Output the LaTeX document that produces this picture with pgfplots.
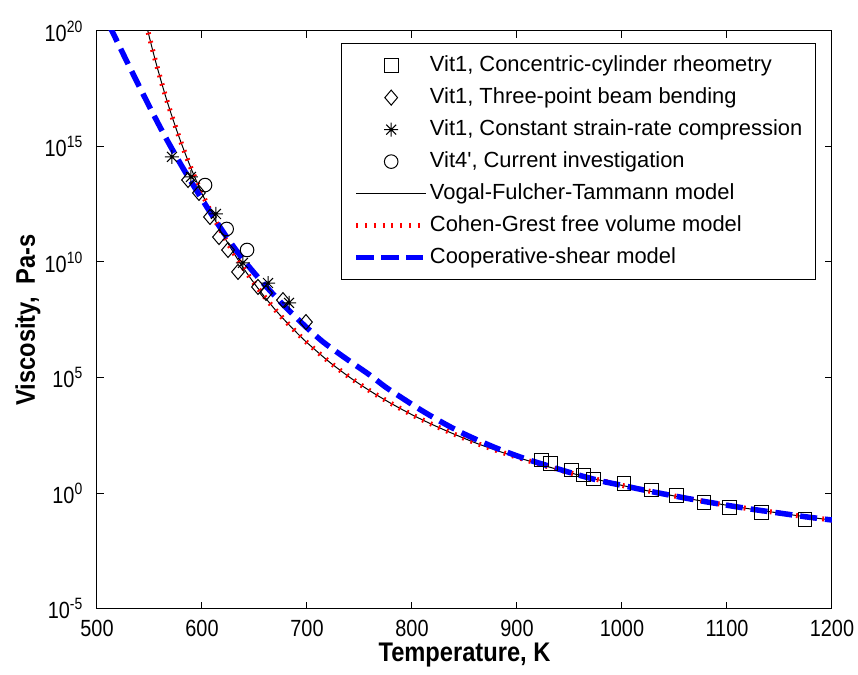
\documentclass[border=0pt]{standalone}
\usepackage{pgfplots}
\pgfplotsset{compat=1.18}
\usepackage{fontspec}
\setmainfont{Liberation Sans}
\newfontfamily\legfont[Ligatures=TeXOff]{Liberation Sans}
\newfontfamily\tickfont[FakeStretch=0.85]{Liberation Sans}
\newfontfamily\labfont[FakeStretch=0.88]{Liberation Sans}
\definecolor{mblue}{RGB}{0,0,255}
\definecolor{mred}{RGB}{255,0,0}
\pgfdeclareplotmark{ast8}{%
  \pgfpathmoveto{\pgfqpoint{-\pgfplotmarksize}{0pt}}\pgfpathlineto{\pgfqpoint{\pgfplotmarksize}{0pt}}%
  \pgfpathmoveto{\pgfqpoint{0pt}{-\pgfplotmarksize}}\pgfpathlineto{\pgfqpoint{0pt}{\pgfplotmarksize}}%
  \pgfpathmoveto{\pgfqpoint{-0.707\pgfplotmarksize}{-0.707\pgfplotmarksize}}\pgfpathlineto{\pgfqpoint{0.707\pgfplotmarksize}{0.707\pgfplotmarksize}}%
  \pgfpathmoveto{\pgfqpoint{-0.707\pgfplotmarksize}{0.707\pgfplotmarksize}}\pgfpathlineto{\pgfqpoint{0.707\pgfplotmarksize}{-0.707\pgfplotmarksize}}%
  \pgfusepathqstroke}
\pgfdeclareplotmark{mdiam}{%
  \pgfpathmoveto{\pgfqpoint{0pt}{\pgfplotmarksize}}%
  \pgfpathlineto{\pgfqpoint{0.85\pgfplotmarksize}{0pt}}%
  \pgfpathlineto{\pgfqpoint{0pt}{-\pgfplotmarksize}}%
  \pgfpathlineto{\pgfqpoint{-0.85\pgfplotmarksize}{0pt}}%
  \pgfpathclose\pgfusepathqstroke}
\begin{document}
\begin{tikzpicture}
\path[use as bounding box] (-97bp,-66.5bp) rectangle (761bp,608.5bp);
\begin{axis}[
  at={(0,0)}, anchor=south west,
  scale only axis, width=735bp, height=577.5bp,
  xmin=500, xmax=1200, ymin=1e-5, ymax=1e20, ymode=log,
  xtick={500,600,...,1200},
  ytick={1e-5,1,1e5,1e10,1e15,1e20},
  yticklabels={10\textsuperscript{-5},10\textsuperscript{0},10\textsuperscript{5},10\textsuperscript{10},10\textsuperscript{15},10\textsuperscript{20}},
  yminorticks=false, xminorticks=false,
  tick align=inside, major tick length=7bp,
  axis line style={line width=1bp},
  every tick/.style={black, line width=1bp},
  /pgf/number format/assume math mode=true,
  /pgf/number format/1000 sep={},
  tick label style={font=\tickfont\fontsize{23.5}{26}\selectfont},
  xticklabel style={inner sep=0pt, anchor=north, yshift=-11.5bp},
  yticklabel style={inner sep=0pt, anchor=east, xshift=-14bp},
  xlabel={Temperature, K},
  ylabel={Viscosity,\ \ Pa-s},
  label style={font=\labfont\bfseries\fontsize{27}{30}\selectfont},
  xlabel style={at={(axis description cs:0.5,-0.0805)},anchor=center},
  ylabel style={at={(axis description cs:-0.0939,0.5)},anchor=center},
  legend image code/.code={\draw[mark repeat=2,mark phase=2,#1] plot coordinates {(0bp,0bp) (35bp,0bp) (70bp,0bp)};},
  legend cell align=left,
  legend style={at={(0.978,0.979)}, anchor=north east, draw=black, line width=1bp,
    font=\legfont\fontsize{22}{26}\selectfont, inner xsep=12bp, inner ysep=11bp, row sep=10bp,
    nodes={inner sep=1bp, text height=15.5bp, text depth=4.5bp}},
]
% Vit1, Concentric-cylinder rheometry
\addplot[only marks, mark=square, mark size=6.8bp, mark options={solid, draw=black, fill=none, line width=1bp}] coordinates {
(923.5,26.9) (932.1,19.5) (952.1,10.0) (963.1,6.03) (972.7,4.07) (1001.9,2.63)
(1028.3,1.35) (1052.1,0.759) (1078.1,0.398) (1102.2,0.240) (1133,0.141) (1174.3,0.0724)
};
\addlegendentry{Vit1, Concentric-cylinder rheometry}
% Vit1, Three-point beam bending
\addplot[only marks, mark=mdiam, mark size=7.5bp, mark options={solid, draw=black, fill=none, line width=1bp}] coordinates {
(586.7,3.55e13) (597.1,9.77e12) (607.6,8.91e11) (616.2,1.20e11) (624.8,3.31e10)
(634.3,3.72e9) (653.3,8.32e8) (661.0,4.57e8) (677.1,2.24e8) (699.0,2.51e7)
};
\addlegendentry{Vit1, Three-point beam bending}
% Vit1, Constant strain-rate compression
\addplot[only marks, mark=ast8, mark size=7bp, mark options={solid, draw=black, line width=1bp}] coordinates {
(571.4,3.55e14) (589.5,4.79e13) (613.3,1.20e12) (639.0,9.12e9) (662.9,1.23e9) (682.9,1.70e8)
};
\addlegendentry{Vit1, Constant strain-rate compression}
% Vit4', Current investigation
\addplot[only marks, mark=o, mark size=6.8bp, mark options={solid, draw=black, fill=none, line width=1bp}] coordinates {
(602.9,2.14e13) (623.5,2.69e11) (642.9,3.31e10)
};
\addlegendentry{Vit4', Current investigation}
% Vogal-Fulcher-Tammann model
\addplot[black, line width=1bp, no marks, smooth] coordinates {
(545,4.68e20) (547,1.905e20) (550,5.13e19) (555,6.61e18) (560,1.0e18) (565,1.66e17)
(570,3.16e16) (575,6.61e15) (580,1.51e15) (585,3.80e14) (590,1.02e14) (595,2.95e13)
(600,9.12e12) (610,1.07e12) (620,1.51e11) (630,2.57e10) (640,5.01e9) (650,1.15e9)
(660,2.95e8) (670,8.32e7) (680,2.63e7) (690,8.91e6) (700,3.24e6) (720,5.25e5)
(740,1.07e5) (760,2.63e4) (780,7.59e3) (800,2.45e3) (820,891) (840,355) (860,151)
(880,70.8) (900,35.5) (925,15.8) (950,7.59) (975,3.98) (1000,2.14) (1025,1.23)
(1050,0.741) (1075,0.457) (1100,0.295) (1125,0.195) (1150,0.135) (1175,0.0933) (1200,0.0676)
};
\addlegendentry{Vogal-Fulcher-Tammann model}
% Cohen-Grest free volume model
\addplot[mred, line width=5bp, dash pattern=on 1.8bp off 7bp, no marks, smooth] coordinates {
(545,4.68e20) (547,1.905e20) (550,5.13e19) (555,6.61e18) (560,1.0e18) (565,1.66e17)
(570,3.16e16) (575,6.61e15) (580,1.51e15) (585,3.80e14) (590,1.02e14) (595,2.95e13)
(600,9.12e12) (610,1.07e12) (620,1.51e11) (630,2.57e10) (640,5.01e9) (650,1.15e9)
(660,2.95e8) (670,8.32e7) (680,2.63e7) (690,8.91e6) (700,3.24e6) (720,5.25e5)
(740,1.07e5) (760,2.63e4) (780,7.59e3) (800,2.45e3) (820,891) (840,355) (860,151)
(880,70.8) (900,35.5) (925,15.8) (950,7.59) (975,3.98) (1000,2.14) (1025,1.23)
(1050,0.741) (1075,0.457) (1100,0.295) (1125,0.195) (1150,0.135) (1175,0.0933) (1200,0.0676)
};
\addlegendentry{Cohen-Grest free volume model}
% Cooperative-shear model
\addplot[mblue, line width=5.5bp, dash pattern=on 17bp off 8bp, no marks, smooth] coordinates {
(512,1.585e20) (517,5.62e19) (525,1.0e19) (535,1.20e18) (545,1.48e17) (555,1.905e16)
(565,2.63e15) (580,1.62e14) (595,1.20e13) (610,1.0e12) (625,9.55e10) (640,1.15e10)
(655,1.78e9) (670,3.16e8) (685,6.31e7) (700,1.41e7) (715,3.55e6) (730,1.12e6)
(745,3.72e5) (760,1.26e5) (775,3.80e4) (790,1.35e4) (805,4.90e3) (820,1.91e3)
(835,794) (850,355) (865,174) (880,89.1) (895,49.0) (910,28.2) (925,17.4) (940,10.7)
(960,5.75) (980,3.31) (1000,2.14) (1025,1.23) (1050,0.741) (1075,0.457) (1100,0.295)
(1125,0.195) (1150,0.135) (1175,0.0933) (1200,0.0676)
};
\addlegendentry{Cooperative-shear model}
\end{axis}
\end{tikzpicture}
\end{document}
